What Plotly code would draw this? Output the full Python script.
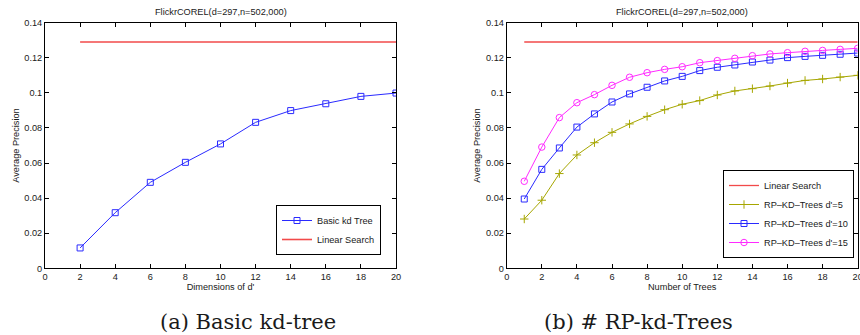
import plotly.graph_objects as go

# ---- data ----
dims = [2, 4, 6, 8, 10, 12, 14, 16, 18, 20]
basic_kd = [0.0116, 0.0317, 0.049, 0.0604, 0.0709, 0.0832, 0.0899, 0.0938, 0.098, 0.0999]
linear_left_x = [2, 20]
linear_value = 0.129

trees = list(range(1, 21))
rp_d5 = [0.0281, 0.0388, 0.054, 0.0646, 0.0716, 0.0775, 0.0823, 0.0866, 0.0904, 0.0935,
         0.0956, 0.0988, 0.1011, 0.1024, 0.1039, 0.1056, 0.1071, 0.1079, 0.109, 0.110]
rp_d10 = [0.0395, 0.0564, 0.0686, 0.0805, 0.088, 0.0948, 0.0994, 0.1032, 0.1068, 0.1094,
          0.1127, 0.1146, 0.1159, 0.1176, 0.1187, 0.1201, 0.1208, 0.1214, 0.122, 0.1227]
rp_d15 = [0.0496, 0.0691, 0.0859, 0.0944, 0.099, 0.1043, 0.1089, 0.1115, 0.1134, 0.1149,
          0.1172, 0.1184, 0.1197, 0.1212, 0.1222, 0.1229, 0.1237, 0.1242, 0.1248, 0.1254]
linear_right_x = [1, 20]

x_ticks = [0, 2, 4, 6, 8, 10, 12, 14, 16, 18, 20]
y_ticks = [0, 0.02, 0.04, 0.06, 0.08, 0.1, 0.12, 0.14]
y_labels = ["0", "0.02", "0.04", "0.06", "0.08", "0.1", "0.12", "0.14"]

title_text = "FlickrCOREL(d=297,n=502,000)"
caption_a = "(a) Basic kd-tree"
caption_b = "(b) # RP-kd-Trees"

W, H = 860, 335
FONT = "Liberation Sans, Arial, Helvetica, sans-serif"
SERIF = "DejaVu Serif, Liberation Serif, serif"
TXT = "#1a1a1a"
RED = "#f24a4a"
BLUE = "#2a2aff"
OLIVE = "#a6a600"
MAG = "#ff2aff"
FS = 9.2

fig = go.Figure()

# left panel
fig.add_trace(go.Scatter(x=dims, y=basic_kd, mode="lines+markers", name="Basic kd Tree",
                         line=dict(color=BLUE, width=1),
                         marker=dict(symbol="square-open", size=6, color=BLUE, line=dict(width=1)),
                         xaxis="x", yaxis="y", legend="legend"))
fig.add_trace(go.Scatter(x=linear_left_x, y=[linear_value] * 2, mode="lines", name="Linear Search",
                         line=dict(color=RED, width=1.6), xaxis="x", yaxis="y", legend="legend"))

# right panel
fig.add_trace(go.Scatter(x=linear_right_x, y=[linear_value] * 2, mode="lines", name="Linear Search",
                         line=dict(color=RED, width=1.3), xaxis="x2", yaxis="y2", legend="legend2"))
fig.add_trace(go.Scatter(x=trees, y=rp_d5, mode="lines+markers", name="RP\u2013KD\u2013Trees d'=5",
                         line=dict(color=OLIVE, width=1),
                         marker=dict(symbol="cross-thin", size=6, color=OLIVE, line=dict(width=1, color=OLIVE)),
                         xaxis="x2", yaxis="y2", legend="legend2"))
fig.add_trace(go.Scatter(x=trees, y=rp_d10, mode="lines+markers", name="RP\u2013KD\u2013Trees d'=10",
                         line=dict(color=BLUE, width=1),
                         marker=dict(symbol="square-open", size=6, color=BLUE, line=dict(width=1)),
                         xaxis="x2", yaxis="y2", legend="legend2"))
fig.add_trace(go.Scatter(x=trees, y=rp_d15, mode="lines+markers", name="RP\u2013KD\u2013Trees d'=15",
                         line=dict(color=MAG, width=1),
                         marker=dict(symbol="circle-open", size=6.5, color=MAG, line=dict(width=1)),
                         xaxis="x2", yaxis="y2", legend="legend2"))


def px_x(p):
    return p / W


def px_y(p):
    return 1 - p / H


ydom = [px_y(268.3), px_y(22.7)]
ax_common = dict(showline=True, linecolor="black", linewidth=1, mirror="ticks",
                 ticks="inside", ticklen=4, tickcolor="black", showgrid=False, zeroline=False,
                 automargin=False, ticklabeloverflow="allow",
                 tickfont=dict(family=FONT, size=FS, color=TXT))

fig.update_layout(
    width=W, height=H, margin=dict(l=0, r=0, t=0, b=0, pad=0),
    paper_bgcolor="white", plot_bgcolor="white",
    font=dict(family=FONT, size=FS, color=TXT),
    xaxis=dict(domain=[px_x(45), px_x(396)], range=[0, 20], tickvals=x_ticks,
               title=dict(text="Dimensions of d'", font=dict(size=FS), standoff=1), anchor="y", **ax_common),
    yaxis=dict(domain=ydom, range=[0, 0.14], tickvals=y_ticks, ticktext=y_labels,
               title=dict(text="Average Precision", font=dict(size=FS), standoff=3), anchor="x", **ax_common),
    xaxis2=dict(domain=[px_x(506.7), px_x(857.7)], range=[0, 20], tickvals=x_ticks,
                title=dict(text="Number of Trees", font=dict(size=FS), standoff=1), anchor="y2", **ax_common),
    yaxis2=dict(domain=ydom, range=[0, 0.14], tickvals=y_ticks, ticktext=y_labels,
                title=dict(text="Average Precision", font=dict(size=FS), standoff=3), anchor="x2", **ax_common),
    legend=dict(x=px_x(276), y=px_y(230), xanchor="left", yanchor="middle",
                bgcolor="white", bordercolor="black", borderwidth=1,
                font=dict(family=FONT, size=FS, color=TXT), tracegroupgap=0, itemwidth=30),
    legend2=dict(x=px_x(723), y=px_y(214), xanchor="left", yanchor="middle",
                 bgcolor="white", bordercolor="black", borderwidth=1,
                 font=dict(family=FONT, size=FS, color=TXT), tracegroupgap=0, itemwidth=30),
    showlegend=True,
)

for cx, txt in [((45 + 396) / 2, title_text), ((506.7 + 857.7) / 2, title_text)]:
    fig.add_annotation(text=txt, x=px_x(cx), y=px_y(12), xref="paper", yref="paper",
                       xanchor="center", yanchor="middle",
                       showarrow=False, font=dict(family=FONT, size=FS, color=TXT))

for cx, txt in [(248, caption_a), (638, caption_b)]:
    fig.add_annotation(text=txt, x=px_x(cx), y=px_y(322), xref="paper", yref="paper",
                       xanchor="center", yanchor="middle",
                       showarrow=False, font=dict(family=SERIF, size=21, color=TXT))

fig.write_html("out.html", config={"displayModeBar": False},
               post_script="document.body.style.margin='0';document.body.style.overflow='hidden';")
